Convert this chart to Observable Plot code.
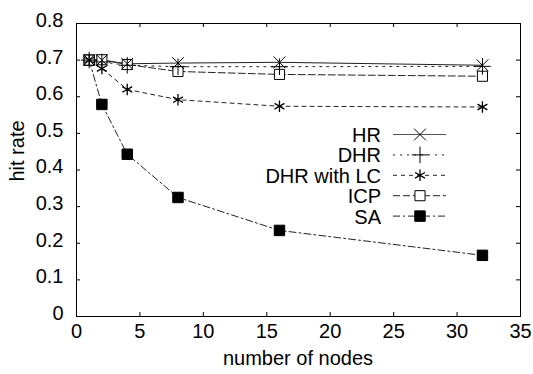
<!DOCTYPE html>
<html>
<head>
<meta charset="utf-8">
<script src="https://cdn.jsdelivr.net/npm/d3@7"></script>
<script src="https://cdn.jsdelivr.net/npm/@observablehq/plot@0.6"></script>
<style>
  html, body { margin: 0; padding: 0; background: #fff; }
  svg { font-family: "Liberation Sans", Arial, Helvetica, sans-serif; }
</style>
</head>
<body>
<div id="chart"></div>
<script>
const nodes = [1, 2, 4, 8, 16, 32];
const seriesNames = ["HR", "DHR", "DHR with LC", "ICP", "SA"];
const hr    = [0.700, 0.700, 0.690, 0.692, 0.694, 0.686];
const dhr   = [0.700, 0.695, 0.686, 0.682, 0.682, 0.683];
const dhrlc = [0.700, 0.677, 0.620, 0.592, 0.574, 0.572];
const icp   = [0.700, 0.701, 0.688, 0.669, 0.661, 0.656];
const sa    = [0.700, 0.579, 0.443, 0.325, 0.235, 0.167];
const xTicks = [0, 5, 10, 15, 20, 25, 30, 35];
const yTicks = [0, 0.1, 0.2, 0.3, 0.4, 0.5, 0.6, 0.7, 0.8];

const values = [hr, dhr, dhrlc, icp, sa];
const styles = {
  "HR":          {dash: null,        symbol: "times",    fill: "none",  r: 5.4, sw: 1},
  "DHR":         {dash: "2,5",       symbol: "plus",     fill: "none",  r: 5.4, sw: 1},
  "DHR with LC": {dash: "4,4",       symbol: "asterisk", fill: "none",  r: 5.4, sw: 1.3},
  "ICP":         {dash: "7,3",       symbol: "square",   fill: "white", r: 5.7, sw: 1},
  "SA":          {dash: "7,3,2,3",   symbol: "square",   fill: "black", r: 5.9, sw: 1}
};

const data = [];
seriesNames.forEach((s, i) => nodes.forEach((n, j) => data.push({series: s, x: n, y: values[i][j]})));

const W = 533, H = 374;
const mL = 76, mR = 13, mT = 23, mB = 58;
const innerH = H - mT - mB, innerW = W - mL - mR;
const tk = 4;

const marks = [
  Plot.frame({stroke: "black", strokeWidth: 1}),
  Plot.tickX(xTicks, {x: d => d, insetTop: innerH - tk, stroke: "black"}),
  Plot.tickX(xTicks, {x: d => d, insetBottom: innerH - tk, stroke: "black"}),
  Plot.tickY(yTicks, {y: d => d, insetRight: innerW - tk, stroke: "black"}),
  Plot.tickY(yTicks, {y: d => d, insetLeft: innerW - tk, stroke: "black"}),
  Plot.axisX({ticks: xTicks, tickSize: 0, tickPadding: 7, fontSize: 20, label: null, tickFormat: d => String(d)}),
  Plot.axisY({ticks: yTicks, tickSize: 0, tickPadding: 13, fontSize: 20, label: null, dy: -3, tickFormat: d => d === 0 ? "0" : d3.format(".1f")(d)})
];
seriesNames.slice().reverse().forEach(s => {
  const st = styles[s];
  const d = data.filter(e => e.series === s);
  marks.push(Plot.line(d, {x: "x", y: "y", stroke: "#222", strokeWidth: 1, strokeDasharray: st.dash}));
});
seriesNames.slice().reverse().forEach(s => {
  const st = styles[s];
  const d = data.filter(e => e.series === s);
  marks.push(Plot.dot(d, {x: "x", y: "y", symbol: st.symbol, r: st.r, stroke: "black", strokeWidth: st.sw, fill: st.fill}));
});

const chart = Plot.plot({
  width: W, height: H,
  marginLeft: mL, marginRight: mR, marginTop: mT, marginBottom: mB,
  style: {fontFamily: '"Liberation Sans", Arial, Helvetica, sans-serif', fontSize: "20px", color: "black", background: "white"},
  x: {domain: [0, 35]},
  y: {domain: [0, 0.8]},
  marks
});
document.getElementById("chart").appendChild(chart);

const svg = d3.select(chart);
// axis labels
svg.append("text").attr("x", 298).attr("y", 365).attr("text-anchor", "middle")
  .attr("font-size", 20).attr("fill", "black").text("number of nodes");
svg.append("text").attr("transform", "translate(24,151) rotate(-90)").attr("text-anchor", "middle")
  .attr("font-size", 20).attr("fill", "black").text("hit rate");

// legend
const symMap = {times: d3.symbolTimes, plus: d3.symbolPlus, asterisk: d3.symbolAsterisk, square: d3.symbolSquare};
const lg = svg.append("g");
seriesNames.forEach((s, i) => {
  const st = styles[s];
  const cy = 134.5 + i * 20.4;
  lg.append("text").attr("x", 381).attr("y", cy + 7.5).attr("text-anchor", "end")
    .attr("font-size", 20).attr("fill", "black").text(s);
  lg.append("line").attr("x1", 393).attr("x2", 446).attr("y1", cy).attr("y2", cy)
    .attr("stroke", s === "HR" ? "#555" : "#222").attr("stroke-width", 1).attr("stroke-dasharray", st.dash);
  lg.append("path").attr("transform", `translate(420,${cy})`)
    .attr("d", d3.symbol(symMap[st.symbol], st.r * st.r * Math.PI)())
    .attr("stroke", "black").attr("stroke-width", st.sw).attr("fill", st.fill);
});
</script>
</body>
</html>
